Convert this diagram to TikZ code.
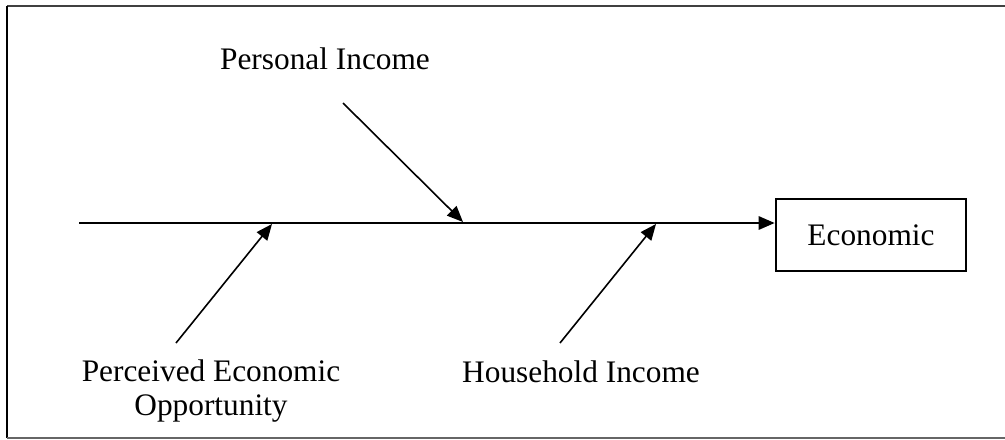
\documentclass[tikz,border=0pt]{standalone}
\usepackage{fontspec}
\setmainfont{Liberation Serif}
\usetikzlibrary{arrows.meta}
\tikzset{
  lbl/.style={font=\fontsize{23.5}{25}\selectfont, inner sep=0pt, align=center},
  branch/.style={line width=1.2pt, -{Triangle[length=12pt,width=10pt]}},
  spine/.style={line width=1.5pt, -{Triangle[length=12pt,width=10pt]}},
  effect/.style={draw, line width=1.5pt, minimum width=143pt, minimum height=54pt, inner sep=0pt, font=\fontsize{23.5}{27}\selectfont},
  frame/.style={line width=1.5pt}
}
\begin{document}
\begin{tikzpicture}[x=0.75pt,y=-0.75pt]
\useasboundingbox (0,0) rectangle (1005,439);
% frame
\draw[frame, black!75] (7,6) -- (1005,6);
\draw[frame] (7,6) -- (7,438);
\draw[line width=1pt, black!60] (7,438) -- (1005,438);
% effect box
\node[effect] (econ) at (871,235) {Economic};
% spine
\coordinate (s0) at (79,223);
\draw[spine] (s0) -- (s0 -| econ.west);
% branches
\coordinate (p1) at (343,103); \coordinate (p2) at (463,222);
\coordinate (q1) at (176,343); \coordinate (q2) at (272,224);
\coordinate (h1) at (560,343); \coordinate (h2) at (656,224);
\draw[branch] (p1) -- (p2);
\draw[branch] (q1) -- (q2);
\draw[branch] (h1) -- (h2);
% labels
\node[lbl, anchor=base] (pi) at (325,69) {Personal Income};
\node[lbl, anchor=base] (pe) at (211,415) {Perceived Economic\\Opportunity};
\node[lbl, anchor=base] (hi) at (581,382) {Household Income};
\end{tikzpicture}
\end{document}
